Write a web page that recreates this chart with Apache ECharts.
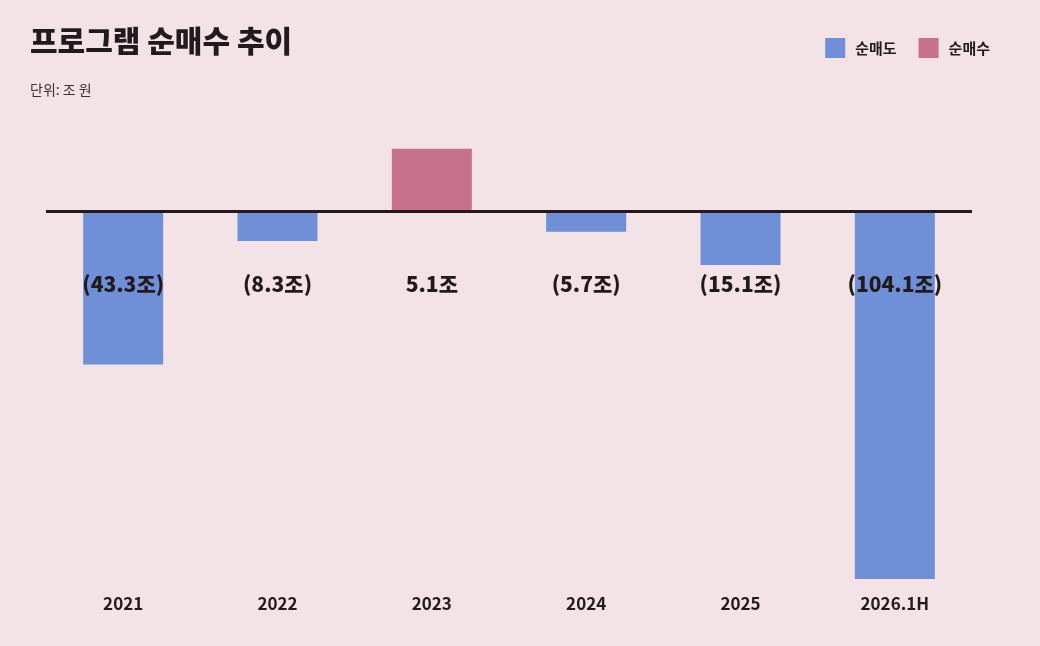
<!DOCTYPE html>
<html>
<head>
<meta charset="utf-8">
<style>
  html, body { margin: 0; padding: 0; background: #f3e2e6; }
  #chart { width: 1040px; height: 646px; }
</style>
<script src="https://cdn.jsdelivr.net/npm/echarts@6/dist/echarts.min.js"></script>
</head>
<body>
<div id="chart"></div>
<script>
// 연도
var years = ['2021', '2022', '2023', '2024', '2025', '2026.1H'];
// 막대 길이 (그림에서 읽은 값, 조 원) - 2023년 막대는 그림상 더 길게 그려져 있음
var barValues = [-43.3, -8.3, 17.8, -5.7, -15.1, -104.1];
// 막대 아래 표시 라벨
var valueLabels = ['(43.3조)', '(8.3조)', '5.1조', '(5.7조)', '(15.1조)', '(104.1조)'];
// 라벨이 놓이는 높이 (y축 값)
var labelLevel = -20.4;

var sellColor = '#6f8fd6';
var buyColor = '#c8718b';
var inkColor = '#231a1e';
var fontKr = '"Noto Sans CJK KR", "Noto Sans", sans-serif';

var chart = echarts.init(document.getElementById('chart'));

var sellData = [], buyData = [], labelData = [];
for (var i = 0; i < years.length; i++) {
    sellData.push(barValues[i] < 0 ? barValues[i] : '-');
    buyData.push(barValues[i] >= 0 ? barValues[i] : '-');
    labelData.push(labelLevel);
}

var option = {
    backgroundColor: '#f3e2e6',
    animation: false,
    title: [{
        text: '프로그램 순매수 추이',
        left: 25,
        top: 21,
        textStyle: { fontFamily: fontKr, fontSize: 30, fontWeight: 900, color: inkColor }
    }, {
        text: '단위: 조 원',
        left: 25,
        top: 78,
        textStyle: { fontFamily: fontKr, fontSize: 14, fontWeight: 'normal', color: '#3b3034' }
    }],
    legend: {
        data: ['순매도', '순매수'],
        right: 45,
        top: 33,
        itemWidth: 20,
        itemHeight: 20,
        itemGap: 22,
        icon: 'rect',
        textStyle: {
            fontFamily: fontKr, fontSize: 15, fontWeight: 'bold', color: inkColor,
            padding: [0, 0, 0, 5]
        }
    },
    grid: { left: 46, right: 68, top: 141, bottom: 67, containLabel: false },
    xAxis: {
        type: 'category',
        data: years,
        axisLine: { show: false, onZero: false },
        axisTick: { show: false },
        axisLabel: {
            margin: 16,
            fontFamily: fontKr,
            fontSize: 17,
            fontWeight: 'bold',
            color: inkColor
        }
    },
    yAxis: {
        type: 'value',
        min: -104.1,
        max: 20,
        show: false,
        splitLine: { show: false }
    },
    series: [{
        name: '순매도',
        type: 'bar',
        stack: 'net',
        barWidth: 80,
        itemStyle: { color: sellColor },
        data: sellData,
        markLine: {
            silent: true,
            symbol: 'none',
            label: { show: false },
            lineStyle: { color: inkColor, width: 3, type: 'solid' },
            data: [{ yAxis: 0 }]
        },
        z: 2
    }, {
        name: '순매수',
        type: 'bar',
        stack: 'net',
        barWidth: 80,
        itemStyle: { color: buyColor },
        data: buyData,
        z: 2
    }, {
        name: 'labels',
        type: 'scatter',
        symbolSize: 0,
        itemStyle: { opacity: 1 },
        data: labelData,
        label: {
            show: true,
            position: 'inside',
            formatter: function (p) { return valueLabels[p.dataIndex]; },
            fontFamily: fontKr,
            fontSize: 21,
            fontWeight: 900,
            color: inkColor
        },
        z: 5
    }]
};

chart.setOption(option);
</script>
</body>
</html>
